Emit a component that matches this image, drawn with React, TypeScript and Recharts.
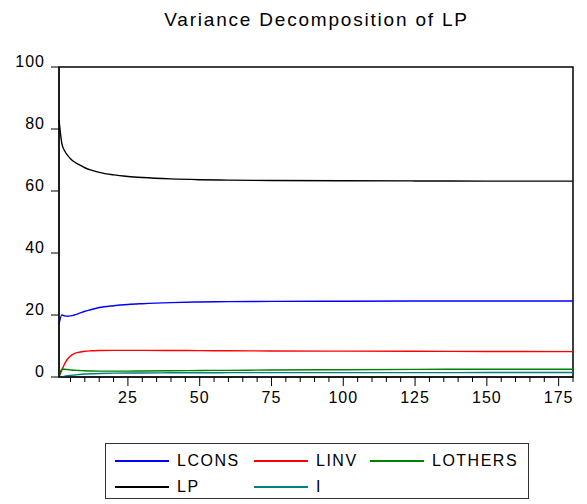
import {
  LineChart,
  Line,
  XAxis,
  YAxis,
  ReferenceArea,
  Legend,
} from 'recharts'

// forecast horizon (periods)
const periods = [1, 2, 3, 4, 5, 6, 7, 8, 10, 12, 15, 20, 25, 30, 40, 50, 60, 75, 100, 125, 150, 180]

const lcons = [17.0, 20.0, 19.7, 19.6, 19.7, 19.9, 20.2, 20.5, 21.2, 21.7, 22.4, 23.0, 23.4, 23.65, 24.0, 24.2, 24.3, 24.4, 24.45, 24.5, 24.5, 24.5]
const linv = [0, 2.2, 4.3, 5.8, 6.8, 7.4, 7.8, 8.0, 8.3, 8.45, 8.55, 8.6, 8.6, 8.6, 8.55, 8.5, 8.45, 8.4, 8.35, 8.3, 8.25, 8.2]
const lothers = [0, 2.5, 2.5, 2.4, 2.3, 2.2, 2.15, 2.1, 2.0, 1.95, 1.9, 1.9, 1.9, 1.95, 2.0, 2.1, 2.15, 2.25, 2.35, 2.45, 2.5, 2.5]
const lp = [83.0, 75.3, 72.9, 71.5, 70.4, 69.6, 69.0, 68.5, 67.5, 66.8, 66.0, 65.2, 64.7, 64.35, 63.9, 63.65, 63.5, 63.4, 63.3, 63.25, 63.2, 63.2]
const iShare = [0, 0.1, 0.25, 0.4, 0.5, 0.6, 0.7, 0.8, 0.95, 1.05, 1.15, 1.25, 1.3, 1.3, 1.35, 1.35, 1.4, 1.4, 1.4, 1.4, 1.45, 1.45]

const xTicks = [5, 10, 15, 20, 25, 30, 35, 40, 45, 50, 55, 60, 65, 70, 75, 80, 85, 90, 95, 100, 105, 110, 115, 120, 125, 130, 135, 140, 145, 150, 155, 160, 165, 170, 175, 180]
const yTicks = [0, 20, 40, 60, 80, 100]

const series = [
  { key: 'LCONS', color: '#0000ff' },
  { key: 'LINV', color: '#ff0000' },
  { key: 'LOTHERS', color: '#008000' },
  { key: 'LP', color: '#000000' },
  { key: 'I', color: '#008080' },
]

const data = periods.map((p, i) => ({
  period: p,
  LCONS: lcons[i],
  LINV: linv[i],
  LOTHERS: lothers[i],
  LP: lp[i],
  I: iShare[i],
}))

const FONT = '"Liberation Sans", Arial, Helvetica, sans-serif'

const YTick = ({ x, y, payload }: any) => (
  <g>
    <line x1={x - 8} y1={y} x2={x} y2={y} stroke="#000" />
    <text x={x - 14} y={y} textAnchor="end" fontSize={16} letterSpacing={1} fill="#000" fontFamily={FONT}>
      {payload.value}
    </text>
  </g>
)

const XTick = ({ x, y, payload }: any) => {
  const major = payload.value % 25 === 0
  return (
    <g>
      <line x1={x} y1={y} x2={x} y2={y + (major ? 9 : 5)} stroke="#000" />
      {major && (
        <text x={x} y={y + 26} textAnchor="middle" fontSize={16} letterSpacing={1} fill="#000" fontFamily={FONT}>
          {payload.value}
        </text>
      )}
    </g>
  )
}

const LegendBox = () => (
  <div
    style={{
      boxSizing: 'border-box',
      width: 424,
      height: 56,
      border: '1px solid #333',
      background: '#fff',
      position: 'relative',
      fontFamily: FONT,
      fontSize: 16,
      letterSpacing: 1.5,
      color: '#000',
    }}
  >
    {series.map((s, i) => {
      const col = i % 3
      const row = Math.floor(i / 3)
      const left = [9, 148, 264][col]
      const top = 17 + row * 26
      return (
        <div key={s.key} style={{ position: 'absolute', left, top: top - 9, height: 18, display: 'flex', alignItems: 'center' }}>
          <div style={{ width: 54, height: 1.5, backgroundColor: s.color }} />
          <span style={{ marginLeft: 8, lineHeight: '18px' }}>{s.key}</span>
        </div>
      )
    })}
  </div>
)

export default function App() {
  return (
    <div style={{ position: 'absolute', left: 0, top: 0, width: 587, height: 504, background: '#fff', overflow: 'hidden' }}>
      <div
        style={{
          position: 'absolute',
          boxSizing: 'border-box',
          left: 0,
          width: 587,
          paddingLeft: 46,
          top: 10,
          textAlign: 'center',
          fontFamily: FONT,
          fontSize: 19,
          lineHeight: '19px',
          letterSpacing: 1.8,
          color: '#000',
          whiteSpace: 'nowrap',
        }}
      >
        Variance Decomposition of LP
      </div>
      <LineChart width={587} height={504} data={data} margin={{ top: 67, right: 14, bottom: 97, left: 0 }}>
        <XAxis
          dataKey="period"
          type="number"
          domain={[1, 180]}
          ticks={xTicks}
          interval={0}
          tickSize={0}
          tickMargin={0}
          tickLine={false}
          tick={<XTick />}
          axisLine={{ stroke: '#000' }}
          height={30}
        />
        <YAxis
          type="number"
          domain={[0, 100]}
          ticks={yTicks}
          interval={0}
          tickSize={0}
          tickMargin={0}
          tickLine={false}
          tick={<YTick />}
          axisLine={{ stroke: '#000' }}
          width={59}
        />
        {/* plot frame (top and right edges) */}
        <ReferenceArea
          x1={1}
          x2={180}
          y1={0}
          y2={100}
          ifOverflow="visible"
          fill="none"
          fillOpacity={0}
          stroke="#000"
          strokeOpacity={1}
          strokeWidth={1.5}
        />
        {series.map((s) => (
          <Line
            key={s.key}
            dataKey={s.key}
            type="monotone"
            stroke={s.color}
            strokeWidth={1.4}
            dot={false}
            isAnimationActive={false}
          />
        ))}
        <Legend
          layout="horizontal"
          verticalAlign="middle"
          content={() => <LegendBox />}
          wrapperStyle={{ left: 105, top: 443, width: 424, height: 56 }}
        />
      </LineChart>
    </div>
  )
}
